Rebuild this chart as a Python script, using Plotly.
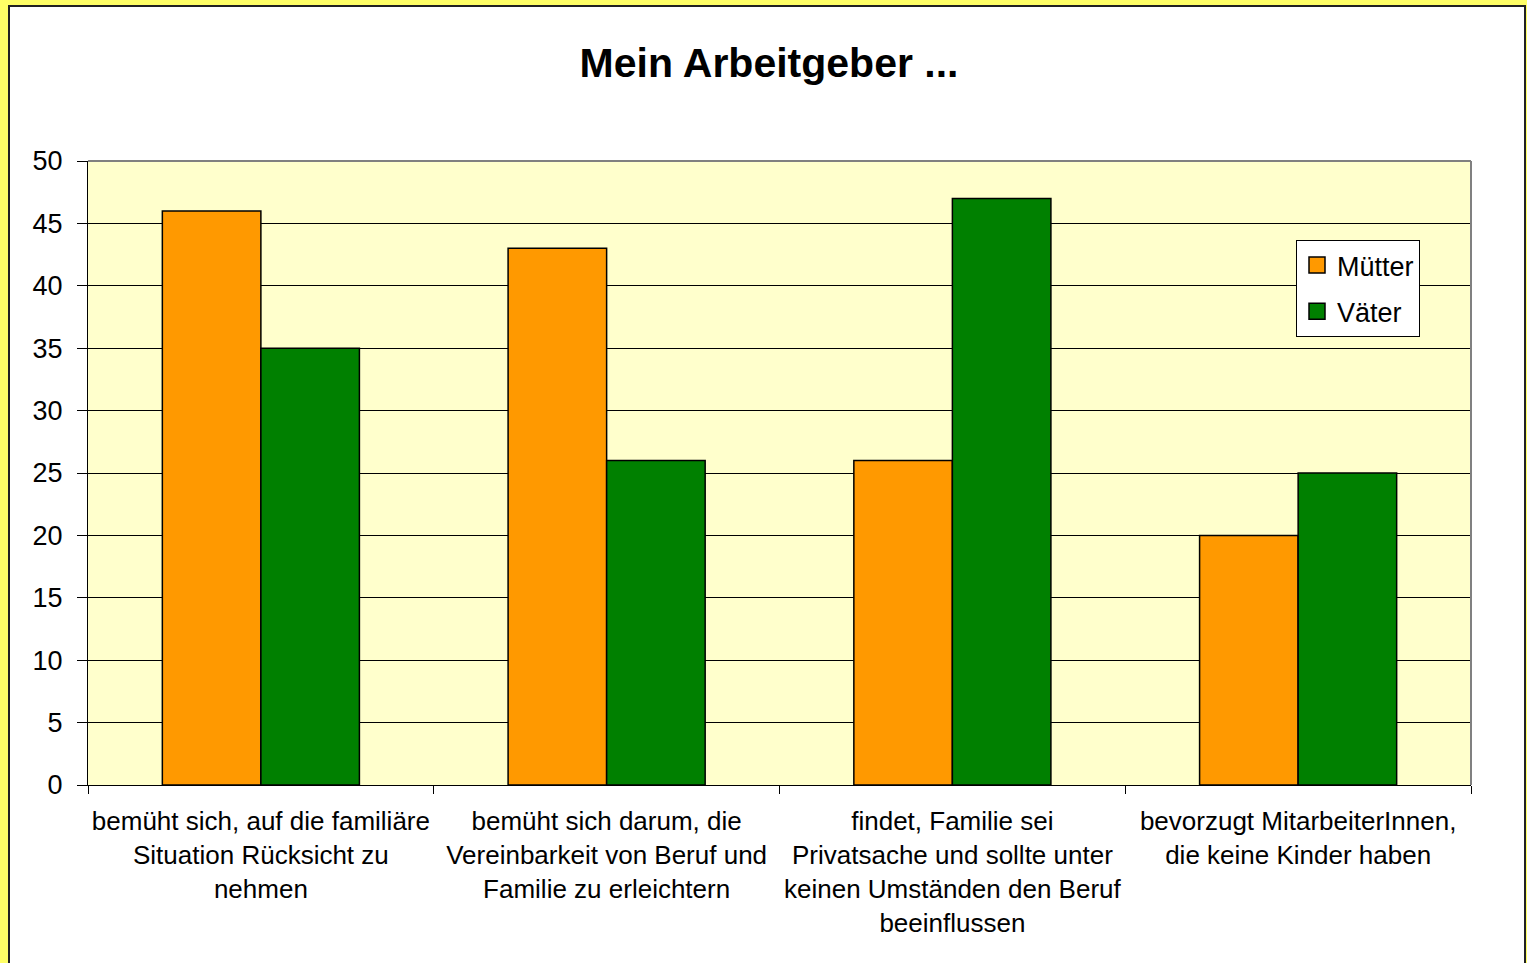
import plotly.graph_objects as go

categories = [
    "bemüht sich, auf die familiäre<br>Situation Rücksicht zu<br>nehmen",
    "bemüht sich darum, die<br>Vereinbarkeit von Beruf und<br>Familie zu erleichtern",
    "findet, Familie sei<br>Privatsache und sollte unter<br>keinen Umständen den Beruf<br>beeinflussen",
    "bevorzugt MitarbeiterInnen,<br>die keine Kinder haben",
]
muetter = [46, 43, 26, 20]
vaeter = [35, 26, 47, 25]
series_names = ["Mütter", "Väter"]
series_colors = ["#FF9900", "#008000"]
y_ticks = [0, 5, 10, 15, 20, 25, 30, 35, 40, 45, 50]

FONT = "Arial, Liberation Sans, sans-serif"
W, H = 1527, 963
L, R, T, B = 88, 56, 161, 178
PW, PH = W - L - R, H - T - B

def px_x(px):
    return (px - L) / PW

def px_y(py):
    return (H - B - py) / PH

fig = go.Figure()
for name, vals, col in zip(series_names, [muetter, vaeter], series_colors):
    fig.add_trace(go.Bar(x=categories, y=vals, name=name, showlegend=False,
                         marker=dict(color=col, line=dict(color="black", width=1.5))))
# legend entries with larger square symbols
for i, (name, col) in enumerate(zip(series_names, series_colors)):
    fig.add_trace(go.Scatter(x=[None], y=[None], mode="markers", name=name,
                             legendgroup=f"g{i}",
                             marker=dict(symbol="square", size=18, color=col,
                                         line=dict(color="black", width=1.5))))

shapes = [
    dict(type="rect", xref="paper", yref="paper", layer="below",
         x0=px_x(9), x1=px_x(1525), y0=px_y(975), y1=px_y(6),
         fillcolor="white", line=dict(color="#222222", width=2)),
    dict(type="rect", xref="paper", yref="paper", layer="below",
         x0=0, x1=1, y0=0, y1=1, fillcolor="#FFFFCC", line=dict(width=0)),
    dict(type="line", xref="paper", yref="paper", x0=0, x1=1, y0=1, y1=1,
         line=dict(color="#808080", width=2)),
    dict(type="line", xref="paper", yref="paper", x0=1, x1=1, y0=0, y1=1,
         line=dict(color="#808080", width=2)),
]

fig.update_layout(
    width=W, height=H,
    margin=dict(l=L, r=R, t=T, b=B, autoexpand=False),
    paper_bgcolor="#FFFF66",
    plot_bgcolor="#FFFFCC",
    barmode="group",
    bargap=0.43,
    bargroupgap=0,
    font=dict(family=FONT, color="black"),
    title=dict(text="<b>Mein Arbeitgeber ...</b>", x=769 / W, xref="container",
               xanchor="center", y=1 - 63 / H, yref="container", yanchor="middle",
               font=dict(size=41, family=FONT, color="black")),
    shapes=shapes,
    legend=dict(x=px_x(1296), y=px_y(240), xanchor="left", yanchor="top",
                bgcolor="white", bordercolor="black", borderwidth=1,
                font=dict(size=27, family=FONT, color="black"),
                traceorder="grouped", tracegroupgap=8, itemwidth=30),
    xaxis=dict(showline=True, linecolor="black", linewidth=1,
               ticks="outside", tickson="boundaries", ticklen=8, tickcolor="black",
               tickangle=0,
               tickfont=dict(size=26, family=FONT, color="black"),
               showgrid=False, ticklabelstandoff=13),
    yaxis=dict(range=[0, 50], tickvals=y_ticks, showline=True, linecolor="black",
               linewidth=1, ticks="outside", ticklen=10, tickcolor="black",
               tickfont=dict(size=27, family=FONT, color="black"),
               showgrid=True, gridcolor="black", gridwidth=1, zeroline=False,
               ticklabelstandoff=9),
)

fig.write_html("out.html", config={"displayModeBar": False},
               post_script="document.body.style.margin='0';document.body.style.overflow='hidden';")
